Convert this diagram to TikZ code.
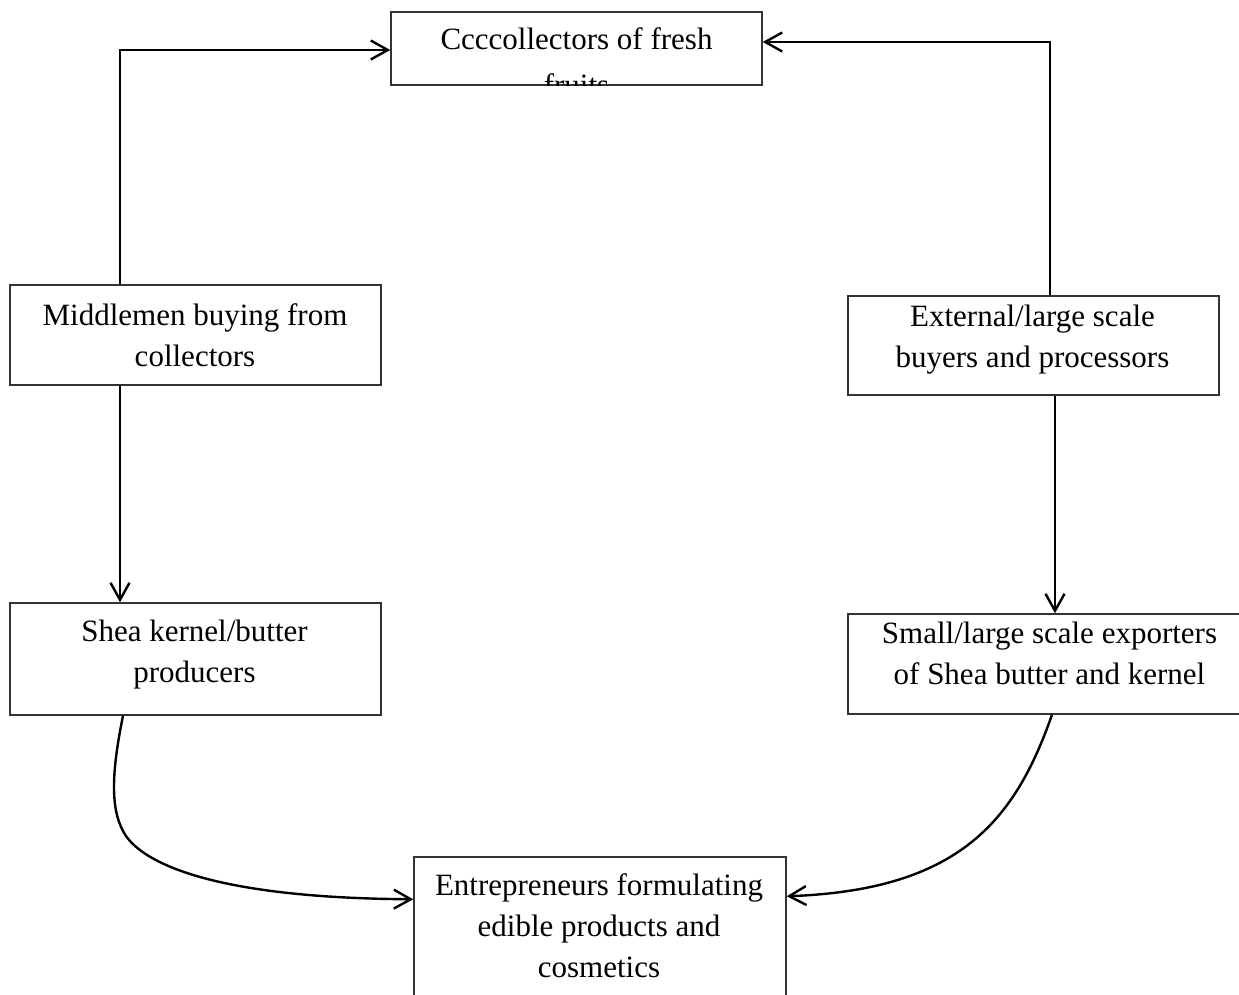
\documentclass[tikz,border=0pt]{standalone}
\usepackage{fontspec}
\setmainfont{Liberation Serif}
\usetikzlibrary{arrows.meta}
\begin{document}
\begin{tikzpicture}[x=1pt,y=-1pt,
  box/.style={draw=black!80, line width=1.5pt, rectangle, inner sep=0pt},
  txt/.style={font=\fontsize{31}{41}\selectfont, align=center, anchor=base, inner sep=0pt},
  arr/.style={line width=2.4pt, -{Straight Barb[length=17pt,width=19pt]}}]
\useasboundingbox (0,0) rectangle (1239,995);
\clip (0,0) rectangle (1239,995);
% boxes
\node[box, minimum width=371pt, minimum height=73pt] (top) at (576.5,48.5) {};
\node[box, minimum width=371pt, minimum height=100pt] (mid) at (195.5,335) {};
\node[box, minimum width=371pt, minimum height=99pt] (ext) at (1033.5,345.5) {};
\node[box, minimum width=371pt, minimum height=112pt] (shea) at (195.5,659) {};
\node[box, minimum width=402pt, minimum height=100pt] (small) at (1049,664) {};
\node[box, minimum width=372pt, minimum height=150pt] (ent) at (600,932) {};
% texts (anchor = baseline of last line)
\begin{scope}
\clip (top.south west) rectangle (top.north east);
\node[txt, font=\fontsize{31}{46}\selectfont] (ttop) at (576.5,96) {Ccccollectors of fresh\\fruits};
\end{scope}
\node[txt] (tmid) at (195,366) {Middlemen buying from\\collectors};
\node[txt] (text) at (1032.5,367) {External/large scale\\buyers and processors};
\node[txt] (tshea) at (194.5,682) {Shea kernel/butter\\producers};
\node[txt] (tsmall) at (1049.5,684) {Small/large scale exporters\\of Shea butter and kernel};
\node[txt] (tent) at (599,977) {Entrepreneurs formulating\\edible products and\\cosmetics};
% connectors
\coordinate (c1) at (120,50);
\coordinate (c2) at (1050,42);
\coordinate (c3) at (1055,0);
\draw[arr] (c1 |- mid.north) -- (c1) -- (c1 -| top.west);
\draw[arr] (c2 |- ext.north) -- (c2) -- (c2 -| top.east);
\draw[arr] (c1 |- mid.south) -- (c1 |- shea.north);
\draw[arr] (c3 |- ext.south) -- (c3 |- small.north);
\draw[arr] ([xshift=-72.5pt]shea.south) .. controls (111,775) and (110,812) .. (126,836)
  .. controls (144,862) and (210,898) .. ([yshift=-43pt]ent.north west);
\draw[arr] ([xshift=3pt]small.south) .. controls (1015,820) and (960,890) .. ([yshift=-40pt]ent.north east);
\end{tikzpicture}
\end{document}
